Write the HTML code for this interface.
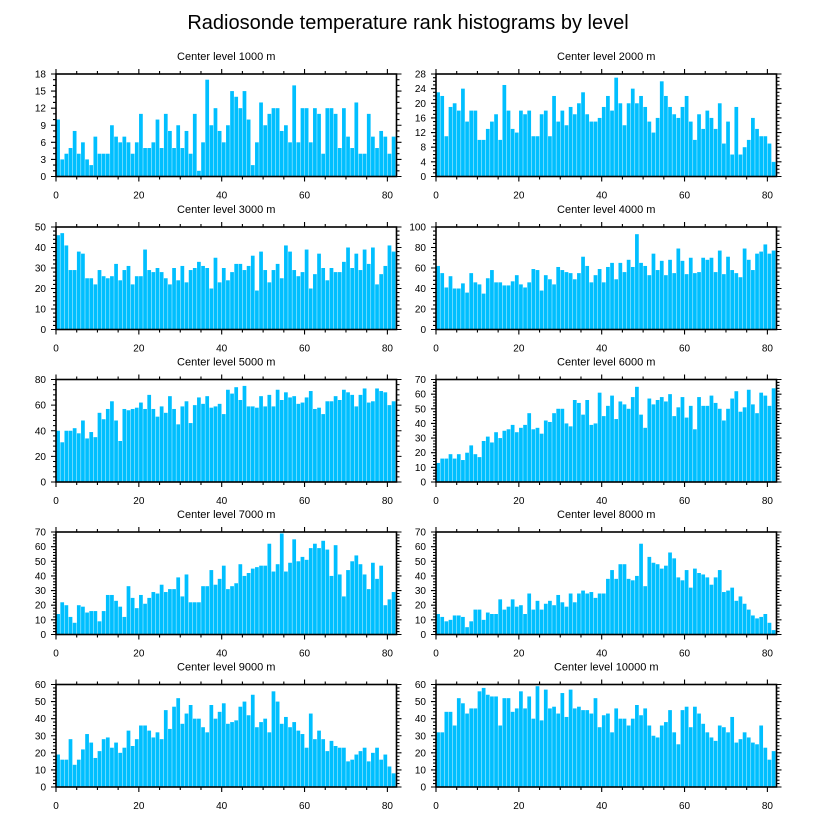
<!DOCTYPE html>
<html><head><meta charset="utf-8"><style>
html,body{margin:0;padding:0;background:#fff;}
svg text{font-family:"Liberation Sans",sans-serif;}
</style></head><body>
<svg id="fig" width="816" height="824" viewBox="0 0 816 824" xmlns="http://www.w3.org/2000/svg">
<rect width="816" height="824" fill="#fff"/>
<text x="408" y="29" font-size="20" text-anchor="middle" fill="#000">Radiosonde temperature rank histograms by level</text>
</svg>
<script>
const levels = ["1000","2000","3000","4000","5000","6000","7000","8000","9000","10000"];
const yMaxes = [18,28,50,100,80,70,70,70,60,60];
const yStepsMajor = [3,4,10,20,20,10,10,10,10,10];
const xTickLabels = [0,20,40,60,80];
const v1000 = [10,3,4,5,8,4,6,3,2,7,4,4,4,9,7,6,7,6,4,6,11,5,5,6,10,5,11,8,5,9,5,8,4,11,1,6,17,9,12,8,6,9,15,14,12,15,10,2,6,13,9,11,12,12,8,9,6,16,6,12,12,6,12,11,4,12,12,11,5,12,7,5,13,4,4,11,7,5,8,7,4,7];
const v2000 = [23,22,11,19,20,18,24,15,18,18,10,10,13,15,17,10,25,18,13,12,18,17,18,11,11,17,18,11,22,15,18,14,19,17,20,23,17,15,15,16,19,22,18,27,20,14,20,24,20,22,19,15,12,16,26,22,19,17,16,19,22,15,10,17,13,18,16,13,20,9,15,6,19,6,8,10,16,13,11,11,9,4];
const v3000 = [46,47,41,29,29,38,37,25,25,22,29,26,25,26,32,24,29,31,22,26,26,39,29,28,30,28,25,22,30,24,31,23,29,30,33,31,30,20,35,23,30,24,28,32,32,29,31,36,19,38,29,23,29,32,25,41,38,29,26,28,39,20,27,37,30,24,30,28,28,33,40,30,37,29,39,32,40,22,27,31,41,38];
const v4000 = [62,55,41,52,40,40,45,36,55,46,44,35,50,58,46,46,43,43,47,53,44,41,46,59,58,38,53,49,44,61,58,56,55,49,55,71,62,46,53,59,46,61,65,49,65,56,68,61,93,65,62,53,74,58,67,53,68,55,79,67,54,70,55,56,70,68,70,56,77,54,71,58,55,51,79,68,58,74,76,83,74,77];
const v5000 = [40,31,40,40,42,38,48,34,39,35,54,49,57,63,48,32,57,56,57,58,62,57,68,57,51,59,54,67,57,45,59,63,46,60,66,61,67,58,59,61,53,72,69,74,64,75,59,59,58,67,59,68,59,72,64,70,66,67,61,62,66,71,57,58,53,63,63,67,64,72,70,68,59,68,73,62,63,73,71,70,60,63];
const v6000 = [13,16,16,19,16,19,15,20,25,19,17,28,31,27,34,30,35,36,39,34,37,39,47,36,37,33,42,41,47,50,50,40,38,56,54,46,56,39,40,61,45,52,59,43,55,53,50,58,65,46,37,57,53,56,58,55,60,45,51,58,44,52,36,58,52,52,59,54,50,42,50,57,62,48,51,63,53,47,61,59,52,64];
const v7000 = [14,22,20,12,8,20,19,15,16,16,9,16,27,27,23,19,12,33,25,18,27,21,25,29,28,34,29,31,31,39,26,41,22,22,22,33,33,44,34,38,47,31,33,35,48,40,42,45,46,47,47,62,43,48,69,43,49,65,50,53,51,59,62,59,64,58,40,61,41,26,44,50,54,48,41,31,49,38,47,20,24,29];
const v8000 = [14,12,9,10,13,13,12,5,9,17,17,10,15,14,14,24,17,19,24,19,20,14,28,17,23,17,21,23,20,27,22,19,28,22,28,30,28,29,25,28,28,38,44,38,48,48,38,37,40,62,33,53,49,48,45,47,56,52,39,37,44,32,45,42,41,39,34,39,44,29,30,32,23,26,21,17,13,11,12,14,8,3];
const v9000 = [19,16,16,28,13,16,22,31,26,17,21,28,29,23,26,20,23,33,24,28,36,36,33,29,32,28,45,34,47,52,37,43,48,40,40,35,32,48,40,44,49,37,38,39,47,50,42,54,35,38,40,32,56,50,37,41,35,38,33,31,23,43,28,33,28,21,27,24,23,23,15,16,19,21,23,15,20,23,16,19,12,8];
const v10000 = [32,32,44,44,36,52,49,43,46,46,56,58,54,53,53,36,52,52,44,46,56,46,53,40,59,39,57,46,47,43,55,41,57,46,47,45,45,43,52,35,42,43,32,46,40,40,36,40,48,42,46,36,30,29,36,38,45,32,25,45,47,35,47,43,37,32,29,27,36,35,32,41,26,28,32,29,26,25,36,23,16,21];
const seriesList = [v1000,v2000,v3000,v4000,v5000,v6000,v7000,v8000,v9000,v10000];

const NS = "http://www.w3.org/2000/svg";
const svg = document.getElementById('fig');
const XMAX = 82.2;
const colLeft = [56, 436];
const plotW = 340.5;
const rowTop = [74, 227, 379.5, 532, 684.5];
const plotH = 102.5;

function mk(tag, attrs, parent){
  const e = document.createElementNS(NS, tag);
  for (const k in attrs) e.setAttribute(k, attrs[k]);
  parent.appendChild(e);
  return e;
}

seriesList.forEach((vals, p) => {
  const L = colLeft[p % 2], T = rowTop[Math.floor(p / 2)], B = T + plotH, R = L + plotW;
  const ymax = yMaxes[p], step = yStepsMajor[p];
  const xs = v => L + v / XMAX * plotW;
  const ys = v => B - v / ymax * plotH;
  const g = mk('g', {}, svg);
  
  

  const t = mk('text', {x: (L + R) / 2, y: T - 14, 'font-size': 11, 'text-anchor': 'middle', fill: '#000'}, g);
  t.textContent = 'Center level ' + levels[p] + ' m';
  
  

  vals.forEach((v, i) => {
    const r = mk('rect', {x: xs(i + 0.05), y: ys(v), width: xs(i + 0.95) - xs(i + 0.05), height: B - ys(v), fill: '#00BFFF'}, g);
    
    
  });

  const fr = mk('rect', {x: L, y: T, width: plotW, height: plotH, fill: 'none', stroke: '#000', 'stroke-width': 1.6}, g);
  
  

  let d = '';
  for (let x = 0; x <= 80; x += 5) {
    const X = xs(x), len = (x % 20 === 0) ? 5 : 3;
    d += `M${X},${B}v${len}M${X},${T}v${-len}`;
  }
  const minor = step / (step % 3 === 0 ? 3 : (step === 4 ? 4 : 5));
  for (let y = 0; y <= ymax + 1e-9; y += minor) {
    const Y = ys(y);
    const major = Math.abs(y / step - Math.round(y / step)) < 1e-6;
    const len = major ? 5 : 3;
    d += `M${L},${Y}h${-len}M${R},${Y}h${len}`;
  }
  const tk = mk('path', {d: d, stroke: '#000', 'stroke-width': 1.1, fill: 'none'}, g);
  
  

  xTickLabels.forEach(x => {
    const lt = mk('text', {x: xs(x), y: B + 22, 'font-size': 10, 'text-anchor': 'middle', fill: '#000'}, g);
    lt.textContent = x;
    
    
  });
  for (let y = 0; y <= ymax; y += step) {
    const lt = mk('text', {x: L - 10, y: ys(y) + 3.5, 'font-size': 10, 'text-anchor': 'end', fill: '#000'}, g);
    lt.textContent = y;
    
    
  }
});
</script>
</body></html>
